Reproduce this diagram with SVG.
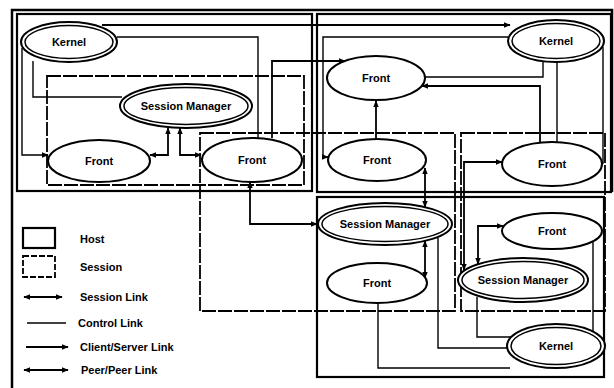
<svg xmlns="http://www.w3.org/2000/svg" width="614" height="388" viewBox="0 0 614 388">
<defs>
<marker id="ah" viewBox="0 0 10 10" refX="9" refY="5" markerWidth="7" markerHeight="7" markerUnits="userSpaceOnUse" orient="auto-start-reverse"><path d="M0,1 L10,5 L0,9 Z" fill="#000"/></marker>
</defs>
<style>
.host{fill:none;stroke:#000;stroke-width:2.2}
.sess{fill:none;stroke:#000;stroke-width:1.8;stroke-dasharray:14 2}
.frame{fill:none;stroke:#000;stroke-width:2.5}
.ctl{fill:none;stroke:#000;stroke-width:1.4}
.lnk{fill:none;stroke:#000;stroke-width:1.8}
.two{marker-start:url(#ah);marker-end:url(#ah)}
.one{marker-end:url(#ah)}
.node ellipse{fill:#fff;stroke:#000;stroke-width:2}
.node ellipse.in{stroke-width:1.5}
text{font-family:"Liberation Sans",Arial,sans-serif;font-weight:bold;font-size:11px;fill:#000}
.node text{text-anchor:middle}
</style>
<rect width="614" height="388" fill="#fff"/>
<g id="frames">
<path class="frame" d="M12,392 V10 H612 V192"/>
<rect class="host" x="17" y="14" width="295" height="177"/>
<rect class="host" x="317" y="14" width="294" height="178"/>
<rect class="host" x="317" y="197" width="287" height="180"/>
<rect class="sess" x="47" y="76" width="257" height="109"/>
<rect class="sess" x="200" y="133" width="255" height="178"/>
<rect class="sess" x="461" y="133" width="144" height="178"/>
</g>
<g id="connectors">
<path class="ctl" d="M117,37 H258 V138"/>
<path class="ctl one" d="M22,48 V155 H48"/>
<path class="ctl" d="M33,61 V97 H122"/>
<path class="lnk one" d="M102,25 H510"/>
<path class="lnk one" d="M272,138 V61 H345"/>
<path class="ctl" d="M543,61 V77 H425"/>
<path class="lnk one" d="M540,142 V86 H422"/>
<path class="ctl" d="M557,62 V142"/>
<path class="ctl one" d="M508,37 H323 V157 H328"/>
<path class="lnk one" d="M376,139 V101"/>
<path class="ctl" d="M603,47 V164"/>
<path class="lnk two" d="M250,182 V224 H317"/>
<path class="lnk two" d="M150,155 H168 V128"/>
<path class="lnk two" d="M180,128 V155 H201"/>
<path class="lnk two" d="M425,168 V207"/>
<path class="lnk two" d="M425,241 V278"/>
<path class="lnk two" d="M502,162 H464 V270"/>
<path class="lnk two" d="M503,226 H478 V264"/>
<path class="ctl" d="M510,368 H378 V303"/>
<path class="ctl" d="M512,348 H438 V238"/>
<path class="ctl" d="M515,337 H477 V297"/>
<path class="ctl" d="M593,332 V242"/>
</g>
<g id="kernelA" class="node"><ellipse cx="69" cy="42" rx="48" ry="20"/><ellipse class="in" cx="69" cy="42" rx="44" ry="16.5"/><text x="69" y="46">Kernel</text></g>
<g id="smA" class="node"><ellipse cx="186" cy="106" rx="66" ry="22"/><ellipse class="in" cx="186" cy="106" rx="62" ry="18.5"/><text x="186" y="110">Session Manager</text></g>
<g id="front1" class="node"><ellipse cx="99" cy="161" rx="51" ry="21"/><text x="99" y="165">Front</text></g>
<g id="front2" class="node"><ellipse cx="252" cy="160" rx="50" ry="22"/><text x="252" y="164">Front</text></g>
<g id="kernelB" class="node"><ellipse cx="556" cy="41" rx="48" ry="21"/><ellipse class="in" cx="556" cy="41" rx="44" ry="17.5"/><text x="556" y="45">Kernel</text></g>
<g id="frontTop" class="node"><ellipse cx="376" cy="78" rx="49" ry="22"/><text x="376" y="82">Front</text></g>
<g id="frontMid" class="node"><ellipse cx="377" cy="160" rx="49" ry="21"/><text x="377" y="164">Front</text></g>
<g id="frontBR" class="node"><ellipse cx="552" cy="164" rx="50" ry="22"/><text x="552" y="168">Front</text></g>
<g id="smC" class="node"><ellipse cx="385" cy="224" rx="67" ry="21"/><ellipse class="in" cx="385" cy="224" rx="63" ry="17.5"/><text x="385" y="228">Session Manager</text></g>
<g id="frontC" class="node"><ellipse cx="377" cy="283" rx="50" ry="20"/><text x="377" y="287">Front</text></g>
<g id="frontBR2" class="node"><ellipse cx="552" cy="231" rx="50" ry="18"/><text x="552" y="235">Front</text></g>
<g id="smBR" class="node"><ellipse cx="523" cy="280" rx="65" ry="22"/><ellipse class="in" cx="523" cy="280" rx="61" ry="18.5"/><text x="523" y="284">Session Manager</text></g>
<g id="kernelC" class="node"><ellipse cx="556" cy="346" rx="49" ry="22"/><ellipse class="in" cx="556" cy="346" rx="45" ry="18.5"/><text x="556" y="350">Kernel</text></g>
<g id="legend">
<rect class="host" x="23" y="228" width="32" height="20"/>
<rect class="sess" x="23" y="256" width="32" height="21" style="stroke-dasharray:6 2"/>
<path class="lnk two" d="M24,297 H62"/>
<path class="ctl" d="M27,323 H66"/>
<path class="lnk one" d="M26,347 H68"/>
<path class="lnk two" d="M24,370 H68"/>
<text x="80" y="243">Host</text>
<text x="80" y="271">Session</text>
<text x="80" y="301">Session Link</text>
<text x="78" y="327">Control Link</text>
<text x="80" y="351">Client/Server Link</text>
<text x="81" y="374">Peer/Peer Link</text>
</g>
</svg>
